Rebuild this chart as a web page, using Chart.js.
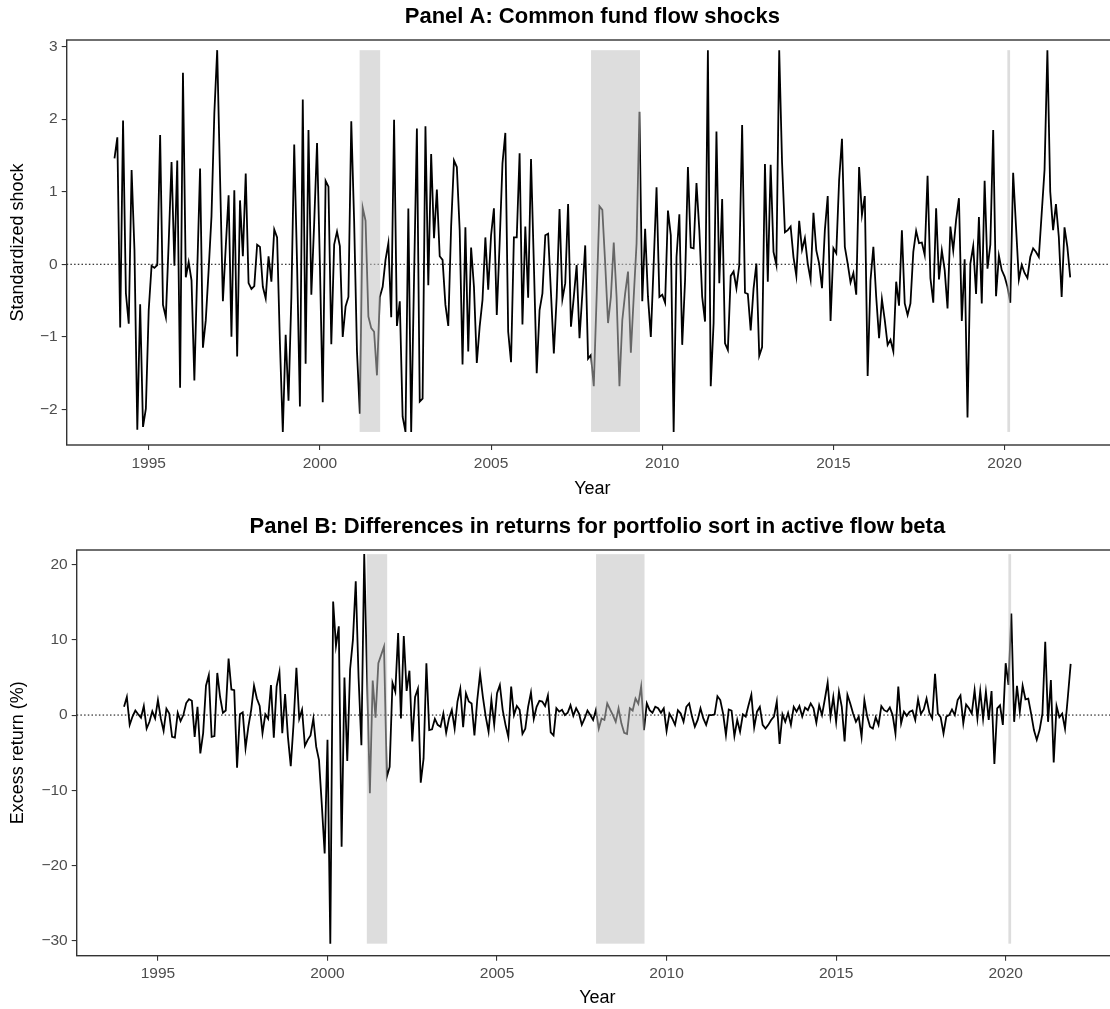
<!DOCTYPE html>
<html><head><meta charset="utf-8">
<script src="https://cdn.jsdelivr.net/npm/chart.js@4"></script>
<style>
html,body{margin:0;padding:0;background:#fff;overflow:hidden;width:1110px;height:1009px;}
#wrapA{position:absolute;left:0;top:0;width:1125px;height:505px;}
#wrapB{position:absolute;left:0;top:505px;width:1125px;height:504px;}
canvas{display:block;}
</style></head><body>
<div id="wrapA"><canvas id="chartA" width="1125" height="505"></canvas></div>
<div id="wrapB"><canvas id="chartB" width="1125" height="504"></canvas></div>
<script>
// ---- data (monthly, Jan 1994 .. Dec 2021) ----
const startYear = 1994;
const flowShocks = [
 1.46, 1.75, -0.87, 1.98, -0.4, -0.82, 1.30, 0.2, -2.28, -0.55, -2.24, -1.99,
 -0.63, -0.02, -0.05, -0.01, 1.78, -0.56, -0.73, 0.3, 1.41, -0.02, 1.43, -1.70,
 2.64, -0.18, 0.03, -0.22, -1.60, -0.1, 1.32, -1.15, -0.77, -0.08, 0.66, 2.08,
 2.95, 1.2, -0.51, 0.24, 0.95, -1.00, 1.02, -1.27, 0.88, 0.11, 1.25, -0.26,
 -0.34, -0.30, 0.27, 0.24, -0.31, -0.47, 0.11, -0.24, 0.48, 0.37, -1.1, -2.31,
 -0.97, -1.88, -0.45, 1.65, 0.0, -1.96, 2.27, -1.37, 1.85, -0.42, 0.57, 1.67,
 0.0, -1.90, 1.15, 1.07, -1.10, 0.27, 0.45, 0.25, -1.00, -0.58, -0.45, 1.97,
 0.6, -1.2, -2.06, 0.78, 0.60, -0.72, -0.88, -0.93, -1.53, -0.45, -0.31, 0.06,
 0.29, -0.73, 1.99, -0.85, -0.51, -2.10, -2.31, 0.77, -2.31, -0.2, 1.87, -1.89,
 -1.85, 1.90, -0.29, 1.52, 0.36, 1.03, 0.11, 0.06, -0.56, -0.85, 0.52, 1.43,
 1.34, 0.47, -1.38, 0.51, -1.20, 0.23, -0.31, -1.36, -0.86, -0.49, 0.37, -0.35,
 0.40, 0.77, -0.70, 0.29, 1.39, 1.81, -0.93, -1.35, 0.37, 0.37, 1.53, -0.83,
 0.52, -0.46, 1.45, 0.0, -1.50, -0.63, -0.40, 0.40, 0.42, -0.40, -1.23, -0.45,
 0.76, -0.48, -0.26, 0.83, -0.86, -0.45, -0.01, -1.02, -0.4, 0.26, -1.30, -1.25,
 -1.68, -0.45, 0.80, 0.75, 0.01, -0.81, -0.45, 0.30, -0.45, -1.68, -0.77, -0.40,
 -0.10, -1.22, -0.45, 0.29, 2.10, -0.51, 0.49, -0.45, -1.00, 0.01, 1.06, -0.45,
 -0.42, -0.53, 0.74, 0.40, -2.31, 0.10, 0.69, -1.11, -0.22, 1.34, 0.23, 0.22,
 1.12, 0.47, -0.45, -0.79, 2.95, -1.68, -0.81, 1.83, -0.26, 0.90, -1.09, -1.18,
 -0.16, -0.10, -0.33, -0.01, 1.92, -0.39, -0.41, -0.91, -0.34, 0.01, -1.26, -1.14,
 1.38, -0.24, 1.37, 0.17, -0.01, 2.95, 1.4, 0.44, 0.47, 0.52, 0.10, -0.16,
 0.60, 0.20, 0.36, 0.01, -0.21, 0.71, 0.19, 0.01, -0.33, 0.47, 0.94, -0.78,
 0.22, 0.15, 1.16, 1.73, 0.24, 0.01, -0.25, -0.12, -0.42, 1.34, 0.68, 0.94,
 -1.54, -0.22, 0.24, -0.45, -1.02, -0.48, -0.77, -1.11, -1.04, -1.20, -0.24, -0.57,
 0.47, -0.54, -0.70, -0.54, 0.17, 0.46, 0.29, 0.30, 0.13, 1.22, -0.19, -0.53,
 0.77, -0.21, 0.19, -0.08, -0.61, 0.52, 0.19, 0.61, 0.91, -0.78, 0.07, -2.11,
 0.01, 0.25, -0.41, 0.65, -0.54, 1.15, -0.06, 0.27, 1.85, -0.44, 0.12, -0.08,
 -0.17, -0.31, -0.53, 1.26, 0.52, -0.21, -0.01, -0.12, -0.19, 0.10, 0.22, 0.17,
 0.10, 0.70, 1.30, 2.95, 1.00, 0.47, 0.83, 0.38, -0.45, 0.51, 0.24, -0.18
];
const excessReturns = [
 1.1, 2.4, -1.3, -0.2, 0.6, 0.1, -0.35, 1.2, -1.8, -0.9, 0.5, -0.45,
 2.0, -0.45, -2.1, 0.85, 0.2, -2.9, -3.0, 0.3, -0.8, 0.0, 1.6, 2.1,
 1.9, -2.9, 1.1, -5.1, -2.4, 3.9, 5.3, -2.9, -2.8, 5.6, 2.4, 0.3,
 0.6, 7.5, 3.4, 3.3, -7.0, 0.1, 0.35, -4.4, -1.55, 0.7, 3.9, 2.2,
 1.2, -2.4, 0.1, -0.5, 4.0, -3.0, 3.8, 5.7, -2.4, 2.8, -2.9, -6.8,
 -1.1, 6.3, -0.5, 0.7, -4.1, -3.3, -2.7, -0.45, -4.2, -6.0, -12.0, -18.4,
 -3.3, -30.4, 15.1, 9.2, 11.8, -17.5, 5.0, -6.1, 6.1, 10.0, 17.8, 5.0,
 -4.0, 21.4, 5.0, -10.4, 4.6, -0.35, 6.9, 8.0, 9.1, -8.2, -6.9, 4.3,
 3.1, 10.9, -0.45, 10.5, 3.2, 5.9, -3.5, 2.4, 3.5, -9.0, -5.8, 6.9,
 -2.0, -1.9, -0.5, -1.3, -1.55, 0.2, -2.35, -0.45, 0.7, -1.8, 1.8, 3.5,
 -1.6, 2.9, 1.8, 1.55, -2.7, 2.0, 5.5, 2.4, -0.2, -2.2, 2.0, -1.3,
 2.9, 4.0, 0.7, -1.3, -2.9, 3.8, 0.0, 1.2, 0.7, -2.5, -1.8, 1.1,
 3.0, -0.5, 1.1, 1.9, 1.8, 1.2, 2.6, -2.3, -2.7, 0.9, 0.45, 0.7,
 0.0, 0.3, 1.3, -0.1, 0.9, 0.2, -1.3, -0.45, 0.6, 0.0, -0.65, 0.7,
 -1.8, -0.45, -0.65, 1.55, 0.75, 0.0, -0.9, 0.9, -1.1, -2.35, -2.5, 0.9,
 0.6, 2.2, 1.5, 3.8, -2.0, 1.55, 0.65, 0.3, 1.1, 0.9, 0.3, 0.9,
 -2.1, 0.2, -0.45, -1.3, 0.65, 0.2, -0.9, 1.1, 1.55, -0.2, -1.55, -0.65,
 0.9, -0.45, -1.3, 0.0, 0.0, 0.1, 2.5, 2.0, 0.2, -2.65, 0.75, 0.6,
 -2.8, -0.65, -2.2, 0.1, -0.2, 1.3, 2.7, -1.65, 0.45, 1.1, -1.3, -1.8,
 -1.3, -0.65, -0.2, 1.8, -3.85, 0.1, -0.9, 0.3, -1.3, 1.1, 0.45, 1.2,
 -0.2, 1.0, 0.65, 1.55, 0.9, -1.0, 1.3, 0.0, 2.1, 4.3, -0.2, 2.4,
 -0.9, 3.1, 1.1, -3.5, 2.7, 1.55, 0.2, -0.9, -0.2, -2.9, 2.0, -0.2,
 -1.55, -1.8, -0.3, -1.3, 1.2, 0.65, 0.45, 1.0, 0.0, -2.45, 3.8, -1.1,
 0.45, -0.1, 0.45, 0.6, -0.65, 2.1, 0.15, 0.75, 2.2, 0.3, -0.45, 5.5,
 0.2, -0.3, -2.45, -0.2, 0.0, 0.75, 0.0, 2.0, 2.6, -1.1, 1.4, 0.9,
 0.2, 3.3, -0.45, 3.2, -0.5, 3.1, -0.65, 3.2, -6.5, 0.9, 1.3, -1.3,
 6.9, 4.0, 13.5, -0.9, 3.9, 0.45, 3.9, 2.1, 2.2, 0.2, -2.0, -3.3,
 -2.0, 0.2, 9.75, -0.9, 4.65, -6.3, 1.2, -0.3, 0.2, -1.8, 2.4, 6.8
];
const recessions = [[2001.16, 2001.76], [2007.92, 2009.35], [2020.08, 2020.16]];
const xTicks = [1995, 2000, 2005, 2010, 2015, 2020];
const yTicksA = [-2, -1, 0, 1, 2, 3];
const yTicksB = [-30, -20, -10, 0, 10, 20];
const titleA = 'Panel A: Common fund flow shocks';
const titleB = 'Panel B: Differences in returns for portfolio sort in active flow beta';
const yTitleA = 'Standardized shock';
const yTitleB = 'Excess return (%)';
const xTitle = 'Year';

// ---- rendering ----
Chart.defaults.font.family = "'Liberation Sans', Arial, Helvetica, sans-serif";
Chart.defaults.animation = false;

const toPoints = arr => arr.map((v, i) => ({x: startYear + i / 12, y: v}));
const nMonths = flowShocks.length;
const xFirst = startYear, xLast = startYear + (nMonths - 1) / 12;
const xPad = (xLast - xFirst) * 0.05;
const xMin = xFirst - xPad, xMax = xLast + xPad;

const fmt = v => (v < 0 ? '\u2212' + Math.abs(v) : String(v));

const bandPlugin = {
  id: 'bands',
  afterDatasetsDraw(chart, args, opts) {
    const {ctx, scales: {x, y}} = chart;
    const top = y.getPixelForValue(opts.yMax);
    const bot = y.getPixelForValue(opts.yMin);
    ctx.save();
    ctx.fillStyle = 'rgba(191,191,191,0.533)';
    recessions.forEach(([a, b]) => {
      const x1 = x.getPixelForValue(a), x2 = x.getPixelForValue(b);
      ctx.fillRect(x1, top, x2 - x1, bot - top);
    });
    ctx.restore();
  }
};
const framePlugin = {
  id: 'frame',
  afterDraw(chart) {
    const {ctx, chartArea: c} = chart;
    ctx.save();
    ctx.strokeStyle = '#333333';
    ctx.lineWidth = 1.4;
    ctx.strokeRect(c.left, c.top, c.right - c.left, c.bottom - c.top);
    ctx.restore();
  }
};

function makeChart(id, series, cfg) {
  const tickFont = {size: 15.5};
  const gridCfg = {display: true, drawOnChartArea: false, drawTicks: true, tickLength: 5, color: '#333333', lineWidth: 1.1};
  return new Chart(document.getElementById(id), {
    type: 'line',
    data: {
      datasets: [
        {data: toPoints(series), borderColor: '#000', borderWidth: 1.8, pointRadius: 0, tension: 0, fill: false, order: 0},
        {data: [{x: xMin, y: 0}, {x: xMax, y: 0}], borderColor: '#000', borderWidth: 1, borderDash: [1.5, 2.2], pointRadius: 0, fill: false, order: 1}
      ]
    },
    options: {
      responsive: false,
      animation: false,
      layout: {padding: {left: 0, top: 0, right: 7, bottom: 0}},
      scales: {
        x: {
          type: 'linear', min: xMin, max: xMax,
          afterBuildTicks: s => { s.ticks = xTicks.map(v => ({value: v})); },
          afterFit: s => { s.height = cfg.xAxisH; },
          ticks: {callback: v => String(v), font: tickFont, color: '#4D4D4D', padding: 4, maxRotation: 0, autoSkip: false},
          grid: gridCfg, border: {display: false},
          title: {display: true, text: xTitle, font: {size: 18}, color: '#000', padding: {top: 0, bottom: cfg.xTitlePad}}
        },
        y: {
          type: 'linear', min: cfg.yMin, max: cfg.yMax,
          afterBuildTicks: s => { s.ticks = cfg.yTicks.map(v => ({value: v})); },
          afterFit: s => { s.width = cfg.yAxisW; },
          ticks: {callback: v => fmt(v), font: tickFont, color: '#4D4D4D', padding: 4},
          grid: gridCfg, border: {display: false},
          title: {display: true, text: cfg.yTitle, font: {size: 18}, color: '#000', padding: {top: 7.2, bottom: 0}}
        }
      },
      plugins: {
        legend: {display: false}, tooltip: {enabled: false},
        title: {display: true, text: cfg.title, fullSize: false, font: {size: 22, weight: 'bold'}, color: '#000', padding: {top: cfg.titlePadTop, bottom: cfg.titlePadBottom}},
        bands: {yMin: Math.min(...series), yMax: Math.max(...series)}
      }
    },
    plugins: [bandPlugin, framePlugin]
  });
}

makeChart('chartA', flowShocks, {
  title: titleA, yTitle: yTitleA, yTicks: yTicksA, yMin: -2.49, yMax: 3.09,
  yAxisW: 66.7, xAxisH: 60, xTitlePad: 5.5, titlePadTop: 4, titlePadBottom: 9.6
});
makeChart('chartB', excessReturns, {
  title: titleB, yTitle: yTitleB, yTicks: yTicksB, yMin: -32.0, yMax: 21.95,
  yAxisW: 76.7, xAxisH: 53.3, xTitlePad: 0.2, titlePadTop: 8.8, titlePadBottom: 9.8
});
</script>
</body></html>
